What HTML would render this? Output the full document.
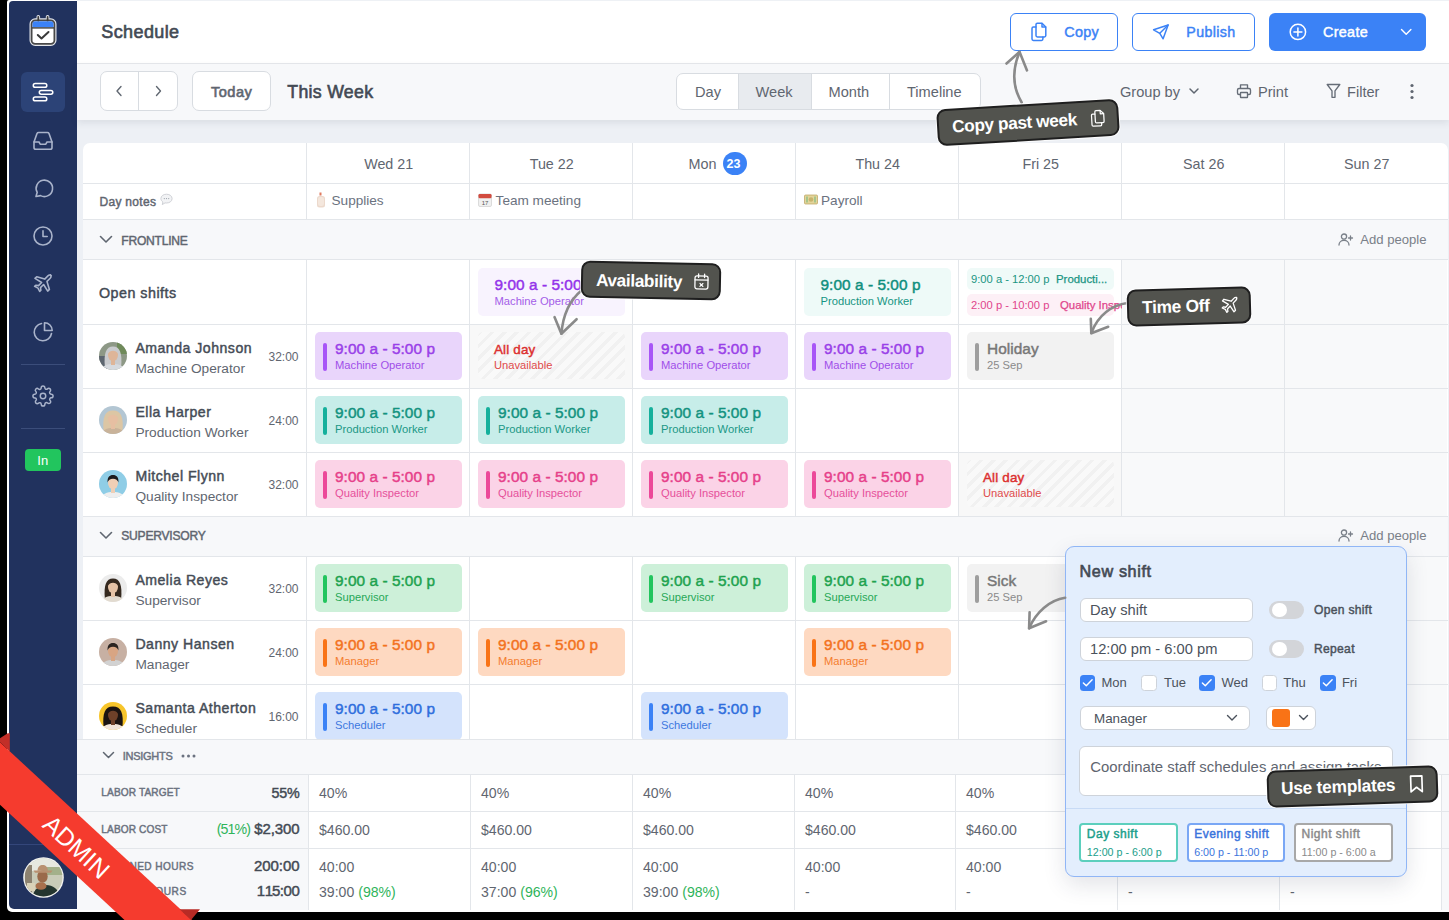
<!DOCTYPE html><html><head><meta charset="utf-8"><style>
*{box-sizing:border-box;margin:0;padding:0}
html,body{width:1449px;height:920px;overflow:hidden;background:#000;font-family:"Liberation Sans",sans-serif;color:#3f4651;position:relative}
.a{position:absolute}
.t{position:absolute;white-space:nowrap;line-height:1}
.hl{position:absolute;height:1px;background:#e3e6ea}
.vl{position:absolute;width:1px;background:#e3e6ea}
.card{position:absolute;border-radius:5px;overflow:hidden}
.bar{position:absolute;left:8px;top:10px;bottom:9px;width:4px;border-radius:2px}
.ct{position:absolute;left:20px;top:11px;font-weight:normal;-webkit-text-stroke:0.45px currentColor;font-size:15px;white-space:nowrap;line-height:1}
.sb{font-weight:normal;-webkit-text-stroke:0.45px currentColor}
.cs{position:absolute;left:20px;top:29px;font-size:11.2px;white-space:nowrap;line-height:1}
.tip{position:absolute;background:#52534e;border:2px solid #1f1f1f;box-shadow:0 0 0 1px rgba(255,255,255,.85);border-radius:9px;color:#fff;font-weight:bold;white-space:nowrap;z-index:30;line-height:1}
.ico{position:absolute;overflow:visible}
</style></head><body>
<div class="a" style="left:7px;top:0;width:1442px;height:911.5px;background:#fff;border-radius:2px 0 0 5px"></div>
<div class="a" style="left:9px;top:1px;width:68px;height:908px;background:#21325e;border-radius:4px 0 0 5px"></div>
<div class="a" style="left:77px;top:0;width:1372px;height:64px;background:#fff;border-bottom:1px solid #e6e8eb"></div>
<div class="a" style="left:77px;top:0;width:1372px;height:1px;background:#eef1f5"></div>
<div class="a" style="left:77px;top:120px;width:1372px;height:790px;background:#edf0f5"></div>
<div class="a" style="left:77px;top:64px;width:1372px;height:56px;background:#f7f8fa;box-shadow:0 3px 7px rgba(30,40,70,.09);z-index:2"></div>
<div class="a" style="left:83px;top:143px;width:1365px;height:767px;background:#fff;border-radius:7px 7px 0 0"></div>
<div class="t" style="left:101.3px;top:23.4px;font-size:18px;letter-spacing:0.39px;font-weight:normal;-webkit-text-stroke:0.62px currentColor;color:#434a54">Schedule</div>
<div class="a" style="left:1010px;top:13px;width:108px;height:38px;border:1.2px solid #3b82f6;border-radius:6px;background:#fff"></div>
<svg class="ico" style="left:1030px;top:22px" width="18" height="20" viewBox="0 0 18 20" fill="none" stroke="#3b82f6" stroke-width="1.5" stroke-linejoin="round" stroke-linecap="round"><path d="M7.4 1.2H12l3.8 3.8v8.6c0 .8-.6 1.4-1.4 1.4H7.4c-.8 0-1.4-.6-1.4-1.4V2.6c0-.8.6-1.4 1.4-1.4z"/><path d="M12 1.4V5h3.6"/><path d="M5.9 5H3.4C2.6 5 2 5.6 2 6.4v10.7c0 .8.6 1.4 1.4 1.4h8.1c.8 0 1.4-.6 1.4-1.4V15"/></svg>
<div class="t" style="left:1064.2px;top:25.4px;font-size:14.4px;letter-spacing:0.3px;font-weight:normal;-webkit-text-stroke:0.45px currentColor;color:#3b82f6">Copy</div>
<div class="a" style="left:1132px;top:13px;width:123px;height:38px;border:1.2px solid #3b82f6;border-radius:6px;background:#fff"></div>
<svg class="ico" style="left:1150px;top:22px" width="22" height="20" viewBox="1150 22 22 20" fill="none" stroke="#3b82f6" stroke-width="1.5" stroke-linejoin="round" stroke-linecap="round"><path d="M1168.1 25L1153.6 29.8 1159.8 33.3 1163.1 38.8z"/><path d="M1159.8 33.3L1168.1 25"/></svg>
<div class="t" style="left:1186.3px;top:25.3px;font-size:14.2px;letter-spacing:0.37px;font-weight:normal;-webkit-text-stroke:0.45px currentColor;color:#3b82f6">Publish</div>
<div class="a" style="left:1269px;top:13px;width:157px;height:38px;border-radius:6px;background:#3b82f6"></div>
<svg class="ico" style="left:1288px;top:22px" width="20" height="20" viewBox="1288 22 20 20" fill="none" stroke="#fff" stroke-width="1.5" stroke-linecap="round"><circle cx="1297.9" cy="31.9" r="7.7"/><path d="M1297.9 27.9v8M1293.9 31.9h8"/></svg>
<div class="t" style="left:1323px;top:25.3px;font-size:14.4px;letter-spacing:0.31px;font-weight:normal;-webkit-text-stroke:0.45px currentColor;color:#fff">Create</div>
<svg class="ico" style="left:1398px;top:26px" width="16" height="12" viewBox="1398 26 16 12" fill="none" stroke="#fff" stroke-width="1.4" stroke-linecap="round" stroke-linejoin="round"><path d="M1401.5 29.5l4.7 4.8 4.7-4.8"/></svg>
<div class="a" style="z-index:3;left:100px;top:71px;width:78px;height:40px;border:1px solid #d8dce1;border-radius:7px;background:#fff"></div>
<div class="a" style="z-index:3;left:138px;top:72px;width:1px;height:38px;background:#d8dce1"></div>
<svg class="ico" style="z-index:3;left:114px;top:84px" width="10" height="14" viewBox="0 0 10 14" fill="none" stroke="#5f6670" stroke-width="1.35" stroke-linecap="round" stroke-linejoin="round"><path d="M7 2.5L3 7l4 4.5"/></svg>
<svg class="ico" style="z-index:3;left:153px;top:84px" width="10" height="14" viewBox="0 0 10 14" fill="none" stroke="#5f6670" stroke-width="1.35" stroke-linecap="round" stroke-linejoin="round"><path d="M3.5 2.5L7.5 7l-4 4.5"/></svg>
<div class="a" style="z-index:3;left:192px;top:71px;width:79px;height:40px;border:1px solid #d8dce1;border-radius:7px;background:#fff"></div>
<div class="t" style="z-index:3;left:211px;top:85px;font-size:14.6px;letter-spacing:0.45px;font-weight:normal;-webkit-text-stroke:0.62px currentColor;color:#5f6670">Today</div>
<div class="t" style="z-index:3;left:287.3px;top:84px;font-size:17.7px;letter-spacing:0.31px;font-weight:normal;-webkit-text-stroke:0.62px currentColor;color:#434a54">This Week</div>
<div class="a" style="z-index:3;left:676px;top:73px;width:305px;height:37px;border:1px solid #d8dce1;border-radius:7px;background:#fff;overflow:hidden"><div class="a" style="left:61px;top:0;width:73px;height:37px;background:#e8ebef"></div><div class="a" style="left:61px;top:0;width:1px;height:37px;background:#d8dce1"></div><div class="a" style="left:134px;top:0;width:1px;height:37px;background:#d8dce1"></div><div class="a" style="left:212px;top:0;width:1px;height:37px;background:#d8dce1"></div></div>
<div class="t" style="z-index:3;left:695px;top:85px;font-size:14.6px;color:#5f6670">Day</div>
<div class="t" style="z-index:3;left:755.5px;top:85px;font-size:14.6px;color:#5f6670">Week</div>
<div class="t" style="z-index:3;left:828.5px;top:85px;font-size:14.6px;color:#5f6670">Month</div>
<div class="t" style="z-index:3;left:907px;top:85px;font-size:14.6px;color:#5f6670">Timeline</div>
<div class="t" style="z-index:3;left:1120px;top:85px;font-size:14.6px;color:#5f6670">Group by</div>
<svg class="ico" style="z-index:3;left:1188px;top:87px" width="12" height="8" viewBox="0 0 12 8" fill="none" stroke="#5f6670" stroke-width="1.5" stroke-linecap="round" stroke-linejoin="round"><path d="M2 2l4 4 4-4"/></svg>
<svg class="ico" style="z-index:3;left:1236px;top:83px" width="16" height="16" viewBox="0 0 16 16" fill="none" stroke="#666d77" stroke-width="1.35" stroke-linejoin="round"><path d="M4.5 5.5V1.8h7v3.7"/><rect x="1.5" y="5.5" width="13" height="6" rx="1.5"/><rect x="4.5" y="9.5" width="7" height="5" rx=".5" fill="#f7f8fa"/></svg>
<div class="t" style="z-index:3;left:1258px;top:85px;font-size:14.6px;color:#5f6670">Print</div>
<svg class="ico" style="z-index:3;left:1326px;top:83px" width="15" height="16" viewBox="0 0 15 16" fill="none" stroke="#666d77" stroke-width="1.35" stroke-linejoin="round"><path d="M1.2 1.5h12.6L9 7.8v6.5H6V7.8z"/></svg>
<div class="t" style="z-index:3;left:1347px;top:85px;font-size:14.6px;color:#5f6670">Filter</div>
<svg class="ico" style="z-index:3;left:1409px;top:83px" width="6" height="17" viewBox="0 0 6 17"><circle cx="3" cy="2.5" r="1.6" fill="#5f6670"/><circle cx="3" cy="8.5" r="1.6" fill="#5f6670"/><circle cx="3" cy="14.5" r="1.6" fill="#5f6670"/></svg>
<div class="a" style="left:83px;top:219px;width:1365px;height:40px;background:#f7f8fa"></div>
<div class="a" style="left:83px;top:516px;width:1365px;height:40px;background:#f7f8fa"></div>
<div class="a" style="left:1121px;top:259px;width:326px;height:65px;background:#f8f9fa"></div>
<div class="a" style="left:1121px;top:324px;width:326px;height:64px;background:#f8f9fa"></div>
<div class="a" style="left:1121px;top:388px;width:326px;height:64px;background:#f8f9fa"></div>
<div class="a" style="left:1121px;top:452px;width:326px;height:64px;background:#f8f9fa"></div>
<div class="a" style="left:1121px;top:556px;width:326px;height:64px;background:#f8f9fa"></div>
<div class="a" style="left:1121px;top:620px;width:326px;height:64px;background:#f8f9fa"></div>
<div class="a" style="left:1121px;top:684px;width:326px;height:64px;background:#f8f9fa"></div>
<div class="a" style="left:469px;top:324px;width:163px;height:64px;background:#f8f8f8"></div>
<div class="a" style="left:478px;top:332px;width:147px;height:47px;border-radius:5px;background:repeating-linear-gradient(135deg,#f1f1f1 0 3.3px,#f9f9f9 3.3px 8.7px)"></div>
<div class="t" style="left:494px;top:343px;font-size:13.4px;letter-spacing:0.18px;font-weight:normal;-webkit-text-stroke:0.45px currentColor;color:#dc2f2f">All day</div>
<div class="t" style="left:494px;top:360px;font-size:11.2px;color:#df4b4b">Unavailable</div>
<div class="a" style="left:958px;top:452px;width:163px;height:64px;background:#f8f8f8"></div>
<div class="a" style="left:967px;top:460px;width:147px;height:47px;border-radius:5px;background:repeating-linear-gradient(135deg,#f1f1f1 0 3.3px,#f9f9f9 3.3px 8.7px)"></div>
<div class="t" style="left:983px;top:471px;font-size:13.4px;letter-spacing:0.18px;font-weight:normal;-webkit-text-stroke:0.45px currentColor;color:#dc2f2f">All day</div>
<div class="t" style="left:983px;top:488px;font-size:11.2px;color:#df4b4b">Unavailable</div>
<div class="hl" style="left:83px;top:183px;width:1365px"></div>
<div class="hl" style="left:83px;top:219px;width:1365px"></div>
<div class="hl" style="left:83px;top:259px;width:1365px"></div>
<div class="hl" style="left:83px;top:324px;width:1365px"></div>
<div class="hl" style="left:83px;top:388px;width:1365px"></div>
<div class="hl" style="left:83px;top:452px;width:1365px"></div>
<div class="hl" style="left:83px;top:516px;width:1365px"></div>
<div class="hl" style="left:83px;top:556px;width:1365px"></div>
<div class="hl" style="left:83px;top:620px;width:1365px"></div>
<div class="hl" style="left:83px;top:684px;width:1365px"></div>
<div class="vl" style="left:306px;top:143px;height:76px"></div>
<div class="vl" style="left:469px;top:143px;height:76px"></div>
<div class="vl" style="left:632px;top:143px;height:76px"></div>
<div class="vl" style="left:795px;top:143px;height:76px"></div>
<div class="vl" style="left:958px;top:143px;height:76px"></div>
<div class="vl" style="left:1121px;top:143px;height:76px"></div>
<div class="vl" style="left:1284px;top:143px;height:76px"></div>
<div class="vl" style="left:306px;top:259px;height:257px"></div>
<div class="vl" style="left:469px;top:259px;height:257px"></div>
<div class="vl" style="left:632px;top:259px;height:257px"></div>
<div class="vl" style="left:795px;top:259px;height:257px"></div>
<div class="vl" style="left:958px;top:259px;height:257px"></div>
<div class="vl" style="left:1121px;top:259px;height:257px"></div>
<div class="vl" style="left:1284px;top:259px;height:257px"></div>
<div class="vl" style="left:306px;top:556px;height:192px"></div>
<div class="vl" style="left:469px;top:556px;height:192px"></div>
<div class="vl" style="left:632px;top:556px;height:192px"></div>
<div class="vl" style="left:795px;top:556px;height:192px"></div>
<div class="vl" style="left:958px;top:556px;height:192px"></div>
<div class="vl" style="left:1121px;top:556px;height:192px"></div>
<div class="vl" style="left:1284px;top:556px;height:192px"></div>
<div class="t" style="left:307.2px;width:163px;text-align:center;top:157px;font-size:14.3px;color:#5f6670">Wed 21</div>
<div class="t" style="left:470.2px;width:163px;text-align:center;top:157px;font-size:14.3px;color:#5f6670">Tue 22</div>
<div class="t" style="left:688.6px;top:157px;font-size:14.4px;color:#5f6670">Mon</div>
<div class="a" style="left:723px;top:151.5px;width:23.5px;height:23.5px;border-radius:50%;background:#3b82f6"></div>
<div class="t" style="left:726.5px;top:158px;font-size:12.5px;font-weight:bold;color:#fff">23</div>
<div class="t" style="left:796.2px;width:163px;text-align:center;top:157px;font-size:14.3px;color:#5f6670">Thu 24</div>
<div class="t" style="left:959.2px;width:163px;text-align:center;top:157px;font-size:14.3px;color:#5f6670">Fri 25</div>
<div class="t" style="left:1122.2px;width:163px;text-align:center;top:157px;font-size:14.3px;color:#5f6670">Sat 26</div>
<div class="t" style="left:1285.2px;width:163px;text-align:center;top:157px;font-size:14.3px;color:#5f6670">Sun 27</div>
<div class="t" style="left:99.5px;top:196px;font-size:12px;letter-spacing:0.3px;font-weight:normal;-webkit-text-stroke:0.45px currentColor;color:#5f6670">Day notes</div>
<svg class="ico" style="left:159.5px;top:193px" width="13" height="13" viewBox="0 0 13 13"><path d="M6.5 1.2C3.3 1.2.9 3.1.9 5.6c0 1.4.8 2.6 2 3.4l-.6 2.6 2.7-1.7c.5.1 1 .1 1.5.1 3.2 0 5.6-1.9 5.6-4.4S9.7 1.2 6.5 1.2z" fill="#f2f3f5" stroke="#c9ccd1" stroke-width=".9"/><circle cx="4.3" cy="5.6" r=".6" fill="#9aa0a8"/><circle cx="6.5" cy="5.6" r=".6" fill="#9aa0a8"/><circle cx="8.7" cy="5.6" r=".6" fill="#9aa0a8"/></svg>
<svg class="ico" style="left:316px;top:192px" width="10" height="16" viewBox="0 0 10 16"><rect x="3.5" y="0.5" width="2" height="3" fill="#e07a5f"/><rect x="1" y="4" width="8" height="11.5" rx="2.5" fill="#ecd9cc"/><rect x="2" y="5" width="6" height="9" rx="2" fill="#f4e7dd"/></svg>
<div class="t" style="left:331.5px;top:194px;font-size:13.6px;color:#6b7280">Supplies</div>
<svg class="ico" style="left:477.5px;top:193px" width="14" height="14" viewBox="0 0 14 14"><rect x="0.5" y="1" width="13" height="12.5" rx="1.5" fill="#f0f0f0" stroke="#c7c7c7" stroke-width=".6"/><rect x="0.5" y="1" width="13" height="4.2" rx="1.2" fill="#d24b3f"/><text x="7" y="11.8" font-size="6" text-anchor="middle" fill="#555" font-family="Liberation Sans">17</text></svg>
<div class="t" style="left:495.6px;top:194px;font-size:13.6px;color:#6b7280">Team meeting</div>
<svg class="ico" style="left:804px;top:194px" width="14" height="11" viewBox="0 0 14 11"><rect x="0.5" y="1" width="13" height="9" rx="1" fill="#e3d49a" stroke="#b9a25a" stroke-width=".7"/><circle cx="7" cy="5.5" r="2.3" fill="#c8b46c"/><rect x="2" y="2.5" width="2" height="6" fill="#a7c58a"/><rect x="10" y="2.5" width="2" height="6" fill="#a7c58a"/></svg>
<div class="t" style="left:821px;top:194px;font-size:13.6px;color:#6b7280">Payroll</div>
<svg class="ico" style="left:99px;top:235px" width="14" height="9" viewBox="0 0 14 9" fill="none" stroke="#5f6670" stroke-width="1.6" stroke-linecap="round" stroke-linejoin="round"><path d="M1.5 1.5L7 7l5.5-5.5"/></svg>
<div class="t" style="left:121.3px;top:234.5px;font-size:12.1px;color:#5f6670;font-weight:normal;-webkit-text-stroke:0.45px currentColor;letter-spacing:-0.25px">FRONTLINE</div>
<svg class="ico" style="left:1338px;top:233px" width="15" height="13" viewBox="0 0 15 13" fill="none" stroke="#7a8089" stroke-width="1.3" stroke-linecap="round"><circle cx="6" cy="3.6" r="2.6"/><path d="M1 12c0-2.8 2.2-4.6 5-4.6s5 1.8 5 4.6"/><path d="M12.5 3v4M10.5 5h4"/></svg>
<div class="t" style="left:1360.3px;top:233px;font-size:13.1px;color:#7a8089">Add people</div>
<svg class="ico" style="left:99px;top:530.8px" width="14" height="9" viewBox="0 0 14 9" fill="none" stroke="#5f6670" stroke-width="1.6" stroke-linecap="round" stroke-linejoin="round"><path d="M1.5 1.5L7 7l5.5-5.5"/></svg>
<div class="t" style="left:121.3px;top:530.3px;font-size:12.1px;color:#5f6670;font-weight:normal;-webkit-text-stroke:0.45px currentColor;letter-spacing:-0.25px">SUPERVISORY</div>
<svg class="ico" style="left:1338px;top:528.8px" width="15" height="13" viewBox="0 0 15 13" fill="none" stroke="#7a8089" stroke-width="1.3" stroke-linecap="round"><circle cx="6" cy="3.6" r="2.6"/><path d="M1 12c0-2.8 2.2-4.6 5-4.6s5 1.8 5 4.6"/><path d="M12.5 3v4M10.5 5h4"/></svg>
<div class="t" style="left:1360.3px;top:528.8px;font-size:13.1px;color:#7a8089">Add people</div>
<div class="t" style="left:99px;top:286px;font-size:14.3px;letter-spacing:0.48px;font-weight:normal;-webkit-text-stroke:0.45px currentColor;color:#434a54">Open shifts</div>
<svg class="ico" style="left:99.0px;top:342.0px" width="28" height="28" viewBox="0 0 28 28"><defs><clipPath id="c113356"><circle cx="14" cy="14" r="14"/></clipPath></defs><g clip-path="url(#c113356)"><rect width="28" height="28" fill="#8d9886"/><rect x="0" y="14" width="9" height="14" fill="#5d6670"/><rect x="18" y="0" width="10" height="12" fill="#6f8a5a"/><path d="M5.800000000000001 24C4.800000000000001 12 6.800000000000001 4.5 14 4.5S23.2 12 22.2 24z" fill="#c9cbce"/><path d="M2 30c0-5.5 5-8 12-8s12 2.5 12 8z" fill="#d6dadf"/><rect x="12" y="17" width="4" height="6" fill="#deb598"/><ellipse cx="14" cy="13" rx="5" ry="6.2" fill="#deb598"/><path d="M8.8 12C9 7.5 11 6 14 6s5 1.5 5.2 6c-1.2-2.2-3-3.2-5.2-3.2S10 9.8 8.8 12z" fill="#c9cbce"/></g></svg>
<div class="t sb" style="left:135.4px;top:340.7px;font-size:14.1px;letter-spacing:0.5px;color:#454c56">Amanda Johnson</div>
<div class="t" style="left:135.4px;top:361.7px;font-size:13.7px;color:#5f6670">Machine Operator</div>
<div class="t" style="right:1150.5px;top:350.7px;font-size:12px;color:#5f6670">32:00</div>
<svg class="ico" style="left:99.0px;top:406.0px" width="28" height="28" viewBox="0 0 28 28"><defs><clipPath id="c113420"><circle cx="14" cy="14" r="14"/></clipPath></defs><g clip-path="url(#c113420)"><rect width="28" height="28" fill="#b3c6d3"/><path d="M4.5 24C3.5 12 5.5 4.5 14 4.5S24.5 12 23.5 24z" fill="#dcc6a4"/><path d="M2 30c0-5.5 5-8 12-8s12 2.5 12 8z" fill="#c9b39a"/><rect x="12" y="17" width="4" height="6" fill="#e6bfa2"/><ellipse cx="14" cy="13" rx="5" ry="6.2" fill="#e6bfa2"/><path d="M8.8 12C9 7.5 11 6 14 6s5 1.5 5.2 6c-1.2-2.2-3-3.2-5.2-3.2S10 9.8 8.8 12z" fill="#dcc6a4"/></g></svg>
<div class="t sb" style="left:135.4px;top:404.7px;font-size:14.1px;letter-spacing:0.5px;color:#454c56">Ella Harper</div>
<div class="t" style="left:135.4px;top:425.7px;font-size:13.7px;color:#5f6670">Production Worker</div>
<div class="t" style="right:1150.5px;top:414.7px;font-size:12px;color:#5f6670">24:00</div>
<svg class="ico" style="left:99.0px;top:470.0px" width="28" height="28" viewBox="0 0 28 28"><defs><clipPath id="c113484"><circle cx="14" cy="14" r="14"/></clipPath></defs><g clip-path="url(#c113484)"><rect width="28" height="28" fill="#8fcde6"/><path d="M2 30c0-5.5 5-8 12-8s12 2.5 12 8z" fill="#eeeeee"/><rect x="12" y="17" width="4" height="6" fill="#efcfb6"/><ellipse cx="14" cy="13" rx="5" ry="6.2" fill="#efcfb6"/><path d="M8.6 12.5C8.2 7 10.5 5 14 5s5.9 2 5.4 7.5c-.6-2.5-2.6-3.8-5.4-3.8s-4.8 1.3-5.4 3.8z" fill="#1d1c1e"/></g></svg>
<div class="t sb" style="left:135.4px;top:468.7px;font-size:14.1px;letter-spacing:0.5px;color:#454c56">Mitchel Flynn</div>
<div class="t" style="left:135.4px;top:489.7px;font-size:13.7px;color:#5f6670">Quality Inspector</div>
<div class="t" style="right:1150.5px;top:478.7px;font-size:12px;color:#5f6670">32:00</div>
<svg class="ico" style="left:99.0px;top:574.0px" width="28" height="28" viewBox="0 0 28 28"><defs><clipPath id="c113588"><circle cx="14" cy="14" r="14"/></clipPath></defs><g clip-path="url(#c113588)"><rect width="28" height="28" fill="#ececec"/><path d="M5.800000000000001 24C4.800000000000001 12 6.800000000000001 4.5 14 4.5S23.2 12 22.2 24z" fill="#35291f"/><path d="M2 30c0-5.5 5-8 12-8s12 2.5 12 8z" fill="#e2dbd0"/><rect x="12" y="17" width="4" height="6" fill="#e6c3a6"/><ellipse cx="14" cy="13" rx="5" ry="6.2" fill="#e6c3a6"/><path d="M8.8 12C9 7.5 11 6 14 6s5 1.5 5.2 6c-1.2-2.2-3-3.2-5.2-3.2S10 9.8 8.8 12z" fill="#35291f"/></g></svg>
<div class="t sb" style="left:135.4px;top:572.7px;font-size:14.1px;letter-spacing:0.5px;color:#454c56">Amelia Reyes</div>
<div class="t" style="left:135.4px;top:593.7px;font-size:13.7px;color:#5f6670">Supervisor</div>
<div class="t" style="right:1150.5px;top:582.7px;font-size:12px;color:#5f6670">32:00</div>
<svg class="ico" style="left:99.0px;top:638.0px" width="28" height="28" viewBox="0 0 28 28"><defs><clipPath id="c113652"><circle cx="14" cy="14" r="14"/></clipPath></defs><g clip-path="url(#c113652)"><rect width="28" height="28" fill="#c7b0a3"/><path d="M2 30c0-5.5 5-8 12-8s12 2.5 12 8z" fill="#d2d2d2"/><rect x="12" y="17" width="4" height="6" fill="#d8a583"/><ellipse cx="14" cy="13" rx="5" ry="6.2" fill="#d8a583"/><path d="M8.6 12.5C8.2 7 10.5 5 14 5s5.9 2 5.4 7.5c-.6-2.5-2.6-3.8-5.4-3.8s-4.8 1.3-5.4 3.8z" fill="#2b2420"/></g></svg>
<div class="t sb" style="left:135.4px;top:636.7px;font-size:14.1px;letter-spacing:0.5px;color:#454c56">Danny Hansen</div>
<div class="t" style="left:135.4px;top:657.7px;font-size:13.7px;color:#5f6670">Manager</div>
<div class="t" style="right:1150.5px;top:646.7px;font-size:12px;color:#5f6670">24:00</div>
<svg class="ico" style="left:99.0px;top:702.0px" width="28" height="28" viewBox="0 0 28 28"><defs><clipPath id="c113716"><circle cx="14" cy="14" r="14"/></clipPath></defs><g clip-path="url(#c113716)"><rect width="28" height="28" fill="#f7c52b"/><path d="M4.5 24C3.5 12 5.5 4.5 14 4.5S24.5 12 23.5 24z" fill="#1b1411"/><path d="M2 30c0-5.5 5-8 12-8s12 2.5 12 8z" fill="#f1e4d8"/><rect x="12" y="17" width="4" height="6" fill="#6e4129"/><ellipse cx="14" cy="13" rx="5" ry="6.2" fill="#6e4129"/><path d="M8.8 12C9 7.5 11 6 14 6s5 1.5 5.2 6c-1.2-2.2-3-3.2-5.2-3.2S10 9.8 8.8 12z" fill="#1b1411"/></g></svg>
<div class="t sb" style="left:135.4px;top:700.7px;font-size:14.1px;letter-spacing:0.5px;color:#454c56">Samanta Atherton</div>
<div class="t" style="left:135.4px;top:721.7px;font-size:13.7px;color:#5f6670">Scheduler</div>
<div class="t" style="right:1150.5px;top:710.7px;font-size:12px;color:#5f6670">16:00</div>
<div class="card" style="left:315px;top:332px;width:147px;height:47.5px;background:#e9d5fb"><div class="bar" style="left:8px;top:10.5px;height:28px;background:#a855f7"></div><div class="ct" style="left:20px;top:8.8px;letter-spacing:0.05px;font-size:15.4px;color:#9940e8">9:00 a - 5:00 p</div><div class="cs" style="left:20px;top:27.6px;color:#a04ee9">Machine Operator</div></div>
<div class="card" style="left:641px;top:332px;width:147px;height:47.5px;background:#e9d5fb"><div class="bar" style="left:8px;top:10.5px;height:28px;background:#a855f7"></div><div class="ct" style="left:20px;top:8.8px;letter-spacing:0.05px;font-size:15.4px;color:#9940e8">9:00 a - 5:00 p</div><div class="cs" style="left:20px;top:27.6px;color:#a04ee9">Machine Operator</div></div>
<div class="card" style="left:804px;top:332px;width:147px;height:47.5px;background:#e9d5fb"><div class="bar" style="left:8px;top:10.5px;height:28px;background:#a855f7"></div><div class="ct" style="left:20px;top:8.8px;letter-spacing:0.05px;font-size:15.4px;color:#9940e8">9:00 a - 5:00 p</div><div class="cs" style="left:20px;top:27.6px;color:#a04ee9">Machine Operator</div></div>
<div class="card" style="left:967px;top:332px;width:147px;height:47.5px;background:#f2f2f2"><div class="bar" style="left:8px;top:10.5px;height:28px;background:#9e9e9e"></div><div class="ct" style="left:20px;top:8.8px;letter-spacing:0.05px;font-size:15.4px;color:#777777">Holiday</div><div class="cs" style="left:20px;top:27.6px;color:#8a8a8a">25 Sep</div></div>
<div class="card" style="left:315px;top:396px;width:147px;height:47.5px;background:#c7ede9"><div class="bar" style="left:8px;top:10.5px;height:28px;background:#15b09c"></div><div class="ct" style="left:20px;top:8.8px;letter-spacing:0.05px;font-size:15.4px;color:#13927f">9:00 a - 5:00 p</div><div class="cs" style="left:20px;top:27.6px;color:#1b9886">Production Worker</div></div>
<div class="card" style="left:478px;top:396px;width:147px;height:47.5px;background:#c7ede9"><div class="bar" style="left:8px;top:10.5px;height:28px;background:#15b09c"></div><div class="ct" style="left:20px;top:8.8px;letter-spacing:0.05px;font-size:15.4px;color:#13927f">9:00 a - 5:00 p</div><div class="cs" style="left:20px;top:27.6px;color:#1b9886">Production Worker</div></div>
<div class="card" style="left:641px;top:396px;width:147px;height:47.5px;background:#c7ede9"><div class="bar" style="left:8px;top:10.5px;height:28px;background:#15b09c"></div><div class="ct" style="left:20px;top:8.8px;letter-spacing:0.05px;font-size:15.4px;color:#13927f">9:00 a - 5:00 p</div><div class="cs" style="left:20px;top:27.6px;color:#1b9886">Production Worker</div></div>
<div class="card" style="left:315px;top:460px;width:147px;height:47.5px;background:#fbd3e7"><div class="bar" style="left:8px;top:10.5px;height:28px;background:#ec4899"></div><div class="ct" style="left:20px;top:8.8px;letter-spacing:0.05px;font-size:15.4px;color:#e6408a">9:00 a - 5:00 p</div><div class="cs" style="left:20px;top:27.6px;color:#e6509a">Quality Inspector</div></div>
<div class="card" style="left:478px;top:460px;width:147px;height:47.5px;background:#fbd3e7"><div class="bar" style="left:8px;top:10.5px;height:28px;background:#ec4899"></div><div class="ct" style="left:20px;top:8.8px;letter-spacing:0.05px;font-size:15.4px;color:#e6408a">9:00 a - 5:00 p</div><div class="cs" style="left:20px;top:27.6px;color:#e6509a">Quality Inspector</div></div>
<div class="card" style="left:641px;top:460px;width:147px;height:47.5px;background:#fbd3e7"><div class="bar" style="left:8px;top:10.5px;height:28px;background:#ec4899"></div><div class="ct" style="left:20px;top:8.8px;letter-spacing:0.05px;font-size:15.4px;color:#e6408a">9:00 a - 5:00 p</div><div class="cs" style="left:20px;top:27.6px;color:#e6509a">Quality Inspector</div></div>
<div class="card" style="left:804px;top:460px;width:147px;height:47.5px;background:#fbd3e7"><div class="bar" style="left:8px;top:10.5px;height:28px;background:#ec4899"></div><div class="ct" style="left:20px;top:8.8px;letter-spacing:0.05px;font-size:15.4px;color:#e6408a">9:00 a - 5:00 p</div><div class="cs" style="left:20px;top:27.6px;color:#e6509a">Quality Inspector</div></div>
<div class="card" style="left:315px;top:564px;width:147px;height:47.5px;background:#cdf0d9"><div class="bar" style="left:8px;top:10.5px;height:28px;background:#22c55e"></div><div class="ct" style="left:20px;top:8.8px;letter-spacing:0.05px;font-size:15.4px;color:#1ea24f">9:00 a - 5:00 p</div><div class="cs" style="left:20px;top:27.6px;color:#26a857">Supervisor</div></div>
<div class="card" style="left:641px;top:564px;width:147px;height:47.5px;background:#cdf0d9"><div class="bar" style="left:8px;top:10.5px;height:28px;background:#22c55e"></div><div class="ct" style="left:20px;top:8.8px;letter-spacing:0.05px;font-size:15.4px;color:#1ea24f">9:00 a - 5:00 p</div><div class="cs" style="left:20px;top:27.6px;color:#26a857">Supervisor</div></div>
<div class="card" style="left:804px;top:564px;width:147px;height:47.5px;background:#cdf0d9"><div class="bar" style="left:8px;top:10.5px;height:28px;background:#22c55e"></div><div class="ct" style="left:20px;top:8.8px;letter-spacing:0.05px;font-size:15.4px;color:#1ea24f">9:00 a - 5:00 p</div><div class="cs" style="left:20px;top:27.6px;color:#26a857">Supervisor</div></div>
<div class="card" style="left:967px;top:564px;width:147px;height:47.5px;background:#f2f2f2"><div class="bar" style="left:8px;top:10.5px;height:28px;background:#9e9e9e"></div><div class="ct" style="left:20px;top:8.8px;letter-spacing:0.05px;font-size:15.4px;color:#777777">Sick</div><div class="cs" style="left:20px;top:27.6px;color:#8a8a8a">25 Sep</div></div>
<div class="card" style="left:315px;top:628px;width:147px;height:47.5px;background:#fed9c1"><div class="bar" style="left:8px;top:10.5px;height:28px;background:#f97316"></div><div class="ct" style="left:20px;top:8.8px;letter-spacing:0.05px;font-size:15.4px;color:#f3721e">9:00 a - 5:00 p</div><div class="cs" style="left:20px;top:27.6px;color:#f47c2e">Manager</div></div>
<div class="card" style="left:478px;top:628px;width:147px;height:47.5px;background:#fed9c1"><div class="bar" style="left:8px;top:10.5px;height:28px;background:#f97316"></div><div class="ct" style="left:20px;top:8.8px;letter-spacing:0.05px;font-size:15.4px;color:#f3721e">9:00 a - 5:00 p</div><div class="cs" style="left:20px;top:27.6px;color:#f47c2e">Manager</div></div>
<div class="card" style="left:804px;top:628px;width:147px;height:47.5px;background:#fed9c1"><div class="bar" style="left:8px;top:10.5px;height:28px;background:#f97316"></div><div class="ct" style="left:20px;top:8.8px;letter-spacing:0.05px;font-size:15.4px;color:#f3721e">9:00 a - 5:00 p</div><div class="cs" style="left:20px;top:27.6px;color:#f47c2e">Manager</div></div>
<div class="card" style="left:315px;top:692px;width:147px;height:47.5px;background:#d4e3fc"><div class="bar" style="left:8px;top:10.5px;height:28px;background:#3b82f6"></div><div class="ct" style="left:20px;top:8.8px;letter-spacing:0.05px;font-size:15.4px;color:#2f6edd">9:00 a - 5:00 p</div><div class="cs" style="left:20px;top:27.6px;color:#3d78e0">Scheduler</div></div>
<div class="card" style="left:641px;top:692px;width:147px;height:47.5px;background:#d4e3fc"><div class="bar" style="left:8px;top:10.5px;height:28px;background:#3b82f6"></div><div class="ct" style="left:20px;top:8.8px;letter-spacing:0.05px;font-size:15.4px;color:#2f6edd">9:00 a - 5:00 p</div><div class="cs" style="left:20px;top:27.6px;color:#3d78e0">Scheduler</div></div>
<div class="card" style="left:478px;top:268px;width:147px;height:48px;background:#f8f3fe"><div class="ct" style="left:16.5px;top:8.6px;font-size:15.4px;letter-spacing:0.05px;color:#9333ea">9:00 a - 5:00 p</div><div class="cs" style="left:16.5px;top:27.6px;color:#a35de8">Machine Operator</div></div>
<div class="card" style="left:804px;top:268px;width:147px;height:48px;background:#eefaf8"><div class="ct" style="left:16.5px;top:8.6px;font-size:15.4px;letter-spacing:0.05px;color:#0f8f7e">9:00 a - 5:00 p</div><div class="cs" style="left:16.5px;top:27.6px;color:#169583">Production Worker</div></div>
<div class="a" style="left:967px;top:268.1px;width:147px;height:21.5px;border-radius:5px;background:#effaf8"></div>
<div class="t" style="left:971px;top:274px;font-size:11.2px;color:#1a9583">9:00 a - 12:00 p</div>
<div class="t" style="left:1056px;top:274px;font-size:11.4px;color:#1a9583;-webkit-text-stroke:0.25px #1a9583">Producti...</div>
<div class="a" style="left:967px;top:294.3px;width:147px;height:21.5px;border-radius:5px;background:#fdf0f6"></div>
<div class="t" style="left:971px;top:299.8px;font-size:11.2px;color:#e0458c">2:00 p - 10:00 p</div>
<div class="a" style="left:967px;top:294px;width:154.5px;height:22px;overflow:hidden"><div class="t" style="left:93px;top:5.8px;font-size:11.4px;color:#e0458c;-webkit-text-stroke:0.25px #e0458c">Quality Inspector</div></div>
<div class="a" style="left:77px;top:738.5px;width:1372px;height:171.5px;background:#fff"></div>
<div class="a" style="left:77px;top:738.5px;width:1372px;height:35px;background:#f7f8fa"></div>
<div class="a" style="left:77px;top:773.5px;width:231px;height:136.5px;background:#f7f8fa"></div>
<div class="a" style="left:1441px;top:773.5px;width:8px;height:136.5px;background:#f7f8fa"></div>
<div class="hl" style="left:77px;top:738.5px;width:1372px"></div>
<div class="hl" style="left:77px;top:773.5px;width:1372px"></div>
<div class="hl" style="left:77px;top:810.5px;width:1372px"></div>
<div class="hl" style="left:77px;top:847.5px;width:1372px"></div>
<div class="vl" style="left:308px;top:773.5px;height:136.5px"></div>
<div class="vl" style="left:470px;top:773.5px;height:136.5px"></div>
<div class="vl" style="left:632px;top:773.5px;height:136.5px"></div>
<div class="vl" style="left:794px;top:773.5px;height:136.5px"></div>
<div class="vl" style="left:955px;top:773.5px;height:136.5px"></div>
<div class="vl" style="left:1117px;top:773.5px;height:136.5px"></div>
<div class="vl" style="left:1279px;top:773.5px;height:136.5px"></div>
<div class="vl" style="left:1441px;top:773.5px;height:136.5px"></div>
<svg class="ico" style="left:101.5px;top:751px" width="13" height="9" viewBox="0 0 13 9" fill="none" stroke="#5f6670" stroke-width="1.5" stroke-linecap="round" stroke-linejoin="round"><path d="M1.5 1.5L6.5 6.5l5-5"/></svg>
<div class="t" style="left:122.8px;top:751px;font-size:11px;font-weight:normal;-webkit-text-stroke:0.45px currentColor;color:#6b7280;letter-spacing:-0.28px">INSIGHTS</div>
<svg class="ico" style="left:180.5px;top:753.5px" width="16" height="4" viewBox="0 0 16 4"><circle cx="2" cy="2" r="1.5" fill="#6b7280"/><circle cx="7.5" cy="2" r="1.5" fill="#6b7280"/><circle cx="13" cy="2" r="1.5" fill="#6b7280"/></svg>
<div class="t" style="left:101.3px;top:787.5px;font-size:10.1px;font-weight:normal;-webkit-text-stroke:0.45px currentColor;color:#6b7280;letter-spacing:0.13px">LABOR TARGET</div>
<div class="t" style="left:101.3px;top:824.5px;font-size:10.1px;font-weight:normal;-webkit-text-stroke:0.45px currentColor;color:#6b7280;letter-spacing:0.13px">LABOR COST</div>
<div class="t" style="left:101.3px;top:861.5px;font-size:10.1px;font-weight:normal;-webkit-text-stroke:0.45px currentColor;color:#6b7280;letter-spacing:0.13px;letter-spacing:0.44px">PLANNED HOURS</div>
<div class="t" style="left:101.3px;top:886.5px;font-size:10.1px;font-weight:normal;-webkit-text-stroke:0.45px currentColor;color:#6b7280;letter-spacing:0.13px;letter-spacing:0.56px">ACTUAL HOURS</div>
<div class="t" style="right:1149.5px;top:785.5px;font-size:14.3px;letter-spacing:-0.17px;font-weight:normal;-webkit-text-stroke:0.45px currentColor;color:#434a54">55%</div>
<div class="t" style="right:1149.5px;top:821px;font-size:15px;letter-spacing:-0.1px;font-weight:normal;-webkit-text-stroke:0.45px currentColor;color:#434a54"><span style="-webkit-text-stroke:0;color:#2fb45a;font-size:14.2px;letter-spacing:-0.9px">(51%)</span> $2,300</div>
<div class="t" style="right:1149.5px;top:858.3px;font-size:15px;letter-spacing:-0.05px;font-weight:normal;-webkit-text-stroke:0.45px currentColor;color:#434a54">200:00</div>
<div class="t" style="right:1149.5px;top:883.3px;font-size:15px;letter-spacing:-0.4px;font-weight:normal;-webkit-text-stroke:0.45px currentColor;color:#434a54">1<span style="letter-spacing:-1.2px">1</span>5:00</div>
<div class="t" style="left:319px;top:786px;font-size:14.1px;color:#5f6670">40%</div>
<div class="t" style="left:319px;top:823px;font-size:14.1px;color:#5f6670">$460.00</div>
<div class="t" style="left:319px;top:859.5px;font-size:14.1px;color:#5f6670">40:00</div>
<div class="t" style="left:319px;top:884.5px;font-size:14.1px;color:#5f6670">39:00 <span style="color:#2fb45a">(98%)</span></div>
<div class="t" style="left:481px;top:786px;font-size:14.1px;color:#5f6670">40%</div>
<div class="t" style="left:481px;top:823px;font-size:14.1px;color:#5f6670">$460.00</div>
<div class="t" style="left:481px;top:859.5px;font-size:14.1px;color:#5f6670">40:00</div>
<div class="t" style="left:481px;top:884.5px;font-size:14.1px;color:#5f6670">37:00 <span style="color:#2fb45a">(96%)</span></div>
<div class="t" style="left:643px;top:786px;font-size:14.1px;color:#5f6670">40%</div>
<div class="t" style="left:643px;top:823px;font-size:14.1px;color:#5f6670">$460.00</div>
<div class="t" style="left:643px;top:859.5px;font-size:14.1px;color:#5f6670">40:00</div>
<div class="t" style="left:643px;top:884.5px;font-size:14.1px;color:#5f6670">39:00 <span style="color:#2fb45a">(98%)</span></div>
<div class="t" style="left:805px;top:786px;font-size:14.1px;color:#5f6670">40%</div>
<div class="t" style="left:805px;top:823px;font-size:14.1px;color:#5f6670">$460.00</div>
<div class="t" style="left:805px;top:859.5px;font-size:14.1px;color:#5f6670">40:00</div>
<div class="t" style="left:805px;top:884.5px;font-size:14.1px;color:#5f6670">-</div>
<div class="t" style="left:966px;top:786px;font-size:14.1px;color:#5f6670">40%</div>
<div class="t" style="left:966px;top:823px;font-size:14.1px;color:#5f6670">$460.00</div>
<div class="t" style="left:966px;top:859.5px;font-size:14.1px;color:#5f6670">40:00</div>
<div class="t" style="left:966px;top:884.5px;font-size:14.1px;color:#5f6670">-</div>
<div class="t" style="left:1128px;top:786px;font-size:14.1px;color:#5f6670">40%</div>
<div class="t" style="left:1128px;top:823px;font-size:14.1px;color:#5f6670">$460.00</div>
<div class="t" style="left:1128px;top:859.5px;font-size:14.1px;color:#5f6670">40:00</div>
<div class="t" style="left:1128px;top:884.5px;font-size:14.1px;color:#5f6670">-</div>
<div class="t" style="left:1290px;top:786px;font-size:14.1px;color:#5f6670">40%</div>
<div class="t" style="left:1290px;top:823px;font-size:14.1px;color:#5f6670">$460.00</div>
<div class="t" style="left:1290px;top:859.5px;font-size:14.1px;color:#5f6670">40:00</div>
<div class="t" style="left:1290px;top:884.5px;font-size:14.1px;color:#5f6670">-</div>
<div class="a" style="z-index:10;left:1065px;top:546px;width:341.5px;height:331px;background:#e3eefd;border:1px solid #90b6f6;border-radius:9px;box-shadow:0 8px 22px rgba(40,50,80,.13)"></div>
<div class="t" style="z-index:10;left:1079.5px;top:562.5px;font-size:16.2px;letter-spacing:0.63px;font-weight:normal;-webkit-text-stroke:0.62px currentColor;color:#434a54">New shift</div>
<div class="a" style="z-index:10;left:1079.5px;top:597.5px;width:173px;height:24px;background:#fff;border:1px solid #ced3da;border-radius:6px"></div>
<div class="t" style="z-index:10;left:1090px;top:603px;font-size:14.7px;color:#4b525c">Day shift</div>
<div class="a" style="z-index:10;left:1079.5px;top:636.5px;width:173px;height:24px;background:#fff;border:1px solid #ced3da;border-radius:6px"></div>
<div class="t" style="z-index:10;left:1090px;top:642px;font-size:14.7px;color:#4b525c">12:00 pm - 6:00 pm</div>
<div class="a" style="z-index:10;left:1269px;top:600.5px;width:35px;height:18.5px;border-radius:10px;background:#d3d5d9"></div>
<div class="a" style="z-index:10;left:1272.3px;top:602.6px;width:14.4px;height:14.4px;border-radius:50%;background:#fff"></div>
<div class="t" style="z-index:10;left:1314px;top:603.8px;font-size:12.1px;letter-spacing:0.3px;font-weight:normal;-webkit-text-stroke:0.45px currentColor;color:#4b525c">Open shift</div>
<div class="a" style="z-index:10;left:1269px;top:639.5px;width:35px;height:18.5px;border-radius:10px;background:#d3d5d9"></div>
<div class="a" style="z-index:10;left:1272.3px;top:641.6px;width:14.4px;height:14.4px;border-radius:50%;background:#fff"></div>
<div class="t" style="z-index:10;left:1314px;top:642.8px;font-size:12.1px;letter-spacing:0.3px;font-weight:normal;-webkit-text-stroke:0.45px currentColor;color:#4b525c">Repeat</div>
<div class="a" style="z-index:10;left:1079.5px;top:675px;width:15.5px;height:15.5px;border-radius:3.5px;background:#3b82f6"></div>
<svg class="ico" style="z-index:10;left:1079.5px;top:675px" width="15.5" height="15.5" viewBox="0 0 16 16" fill="none" stroke="#fff" stroke-width="1.5" stroke-linecap="round" stroke-linejoin="round"><path d="M3.5 8.2l3 3 6-6.2"/></svg>
<div class="t" style="z-index:10;left:1101.4px;top:676px;font-size:13px;color:#4b525c">Mon</div>
<div class="a" style="z-index:10;left:1141.4px;top:675px;width:15.5px;height:15.5px;border-radius:3.5px;background:#fff;border:1px solid #ced3da"></div>
<div class="t" style="z-index:10;left:1164px;top:676px;font-size:13px;color:#4b525c">Tue</div>
<div class="a" style="z-index:10;left:1199.1px;top:675px;width:15.5px;height:15.5px;border-radius:3.5px;background:#3b82f6"></div>
<svg class="ico" style="z-index:10;left:1199.1px;top:675px" width="15.5" height="15.5" viewBox="0 0 16 16" fill="none" stroke="#fff" stroke-width="1.5" stroke-linecap="round" stroke-linejoin="round"><path d="M3.5 8.2l3 3 6-6.2"/></svg>
<div class="t" style="z-index:10;left:1221.4px;top:676px;font-size:13px;color:#4b525c">Wed</div>
<div class="a" style="z-index:10;left:1261.6px;top:675px;width:15.5px;height:15.5px;border-radius:3.5px;background:#fff;border:1px solid #ced3da"></div>
<div class="t" style="z-index:10;left:1283.3px;top:676px;font-size:13px;color:#4b525c">Thu</div>
<div class="a" style="z-index:10;left:1320.2px;top:675px;width:15.5px;height:15.5px;border-radius:3.5px;background:#3b82f6"></div>
<svg class="ico" style="z-index:10;left:1320.2px;top:675px" width="15.5" height="15.5" viewBox="0 0 16 16" fill="none" stroke="#fff" stroke-width="1.5" stroke-linecap="round" stroke-linejoin="round"><path d="M3.5 8.2l3 3 6-6.2"/></svg>
<div class="t" style="z-index:10;left:1341.9px;top:676px;font-size:13px;color:#4b525c">Fri</div>
<div class="a" style="z-index:10;left:1079.5px;top:705.5px;width:170px;height:24.5px;background:#fff;border:1px solid #ced3da;border-radius:6px"></div>
<div class="t" style="z-index:10;left:1094px;top:711.5px;font-size:13.4px;color:#4b525c">Manager</div>
<svg class="ico" style="z-index:10;left:1226px;top:714px" width="12" height="8" viewBox="0 0 12 8" fill="none" stroke="#4b525c" stroke-width="1.4" stroke-linecap="round" stroke-linejoin="round"><path d="M1.5 1.5L6 6l4.5-4.5"/></svg>
<div class="a" style="z-index:10;left:1266px;top:705.5px;width:49.5px;height:24.5px;background:#fff;border:1px solid #ced3da;border-radius:6px"></div>
<div class="a" style="z-index:10;left:1272px;top:709px;width:18px;height:17.5px;border-radius:3px;background:#f97316"></div>
<svg class="ico" style="z-index:10;left:1298px;top:714px" width="11" height="8" viewBox="0 0 11 8" fill="none" stroke="#4b525c" stroke-width="1.4" stroke-linecap="round" stroke-linejoin="round"><path d="M1.5 1.5L5.5 5.5l4-4"/></svg>
<div class="a" style="z-index:10;left:1079.3px;top:745.5px;width:313.6px;height:50px;background:#fff;border:1px solid #ced3da;border-radius:6px;overflow:hidden"><div class="t" style="left:10px;top:13px;font-size:14.9px;color:#5f6670">Coordinate staff schedules and assign tasks</div></div>
<div class="a" style="z-index:10;left:1066px;top:808px;width:340px;height:1px;background:#c8dbf6"></div>
<div class="a" style="z-index:10;left:1079.3px;top:823.4px;width:98.6px;height:39px;background:#fff;border:2px solid #5ccfbd;border-radius:4px"></div>
<div class="t" style="z-index:10;left:1086.8px;top:828px;font-size:12px;letter-spacing:0.5px;font-weight:normal;-webkit-text-stroke:0.45px currentColor;color:#1a9e8a">Day shift</div>
<div class="t" style="z-index:10;left:1086.8px;top:846.5px;font-size:10.7px;color:#1a9e8a">12:00 p - 6:00 p</div>
<div class="a" style="z-index:10;left:1186.7px;top:823.4px;width:98.6px;height:39px;background:#fff;border:2px solid #7aa7f5;border-radius:4px"></div>
<div class="t" style="z-index:10;left:1194.2px;top:828px;font-size:12px;letter-spacing:0.5px;font-weight:normal;-webkit-text-stroke:0.45px currentColor;color:#3a74dc">Evening shift</div>
<div class="t" style="z-index:10;left:1194.2px;top:846.5px;font-size:10.7px;color:#3a74dc">6:00 p - 11:00 p</div>
<div class="a" style="z-index:10;left:1294px;top:823.4px;width:98.6px;height:39px;background:#fff;border:2px solid #a8a8a8;border-radius:4px"></div>
<div class="t" style="z-index:10;left:1301.5px;top:828px;font-size:12px;letter-spacing:0.5px;font-weight:normal;-webkit-text-stroke:0.45px currentColor;color:#8a8a8a">Night shift</div>
<div class="t" style="z-index:10;left:1301.5px;top:846.5px;font-size:10.7px;color:#8a8a8a">11:00 p - 6:00 a</div>
<svg class="ico" style="left:0;top:0;z-index:25" width="1449" height="920" viewBox="0 0 1449 920" fill="none" stroke="#8a8a8a" stroke-width="2.6" stroke-linecap="round" stroke-linejoin="round"><path d="M1021.7 102.5C1013 88 1012 70 1019.5 52"/><path d="M1006.5 63.5L1019.5 51.8 1027 70.4"/><path d="M581.4 290.5C570 300 563 315 561.4 333.5"/><path d="M554.5 317.1L561.4 333.7 576.6 319.2"/><path d="M1127.5 303C1112 305 1098 315 1091.3 333"/><path d="M1090.8 318.8L1091.3 333.3 1108.2 326.8"/><path d="M1065.2 597.8C1050 600 1036 612 1029.1 628.3"/><path d="M1029.6 612.2L1029.1 628.3 1046.1 621.3"/></svg>
<div class="tip" style="left:937.3999999999999px;top:103.69999999999999px;width:182.4px;height:36.8px;transform:rotate(-3.4deg)"><div class="t" style="left:13px;top:7.66px;font-size:17.3px;letter-spacing:-0.41px;font-weight:bold;color:#fff">Copy past week</div><svg class="ico" style="right:11.5px;top:7px" width="16" height="19" viewBox="0 0 18 20" fill="none" stroke="#fff" stroke-width="1.4" stroke-linejoin="round" stroke-linecap="round"><path d="M7.4 1.2H12l3.8 3.8v8.6c0 .8-.6 1.4-1.4 1.4H7.4c-.8 0-1.4-.6-1.4-1.4V2.6c0-.8.6-1.4 1.4-1.4z"/><path d="M12 1.4V5h3.6"/><path d="M5.9 5H3.4C2.6 5 2 5.6 2 6.4v10.7c0 .8.6 1.4 1.4 1.4h8.1c.8 0 1.4-.6 1.4-1.4V15"/></svg></div>
<div class="tip" style="left:581.45px;top:262.20000000000005px;width:140.3px;height:36.8px;transform:rotate(1.1deg)"><div class="t" style="left:13px;top:9.16px;font-size:17.3px;letter-spacing:-0.38px;font-weight:bold;color:#fff">Availability</div><svg class="ico" style="right:10.5px;top:8px" width="15" height="17" viewBox="0 0 15 17" fill="none" stroke="#fff" stroke-width="1.3" stroke-linecap="round"><rect x="1" y="3" width="13" height="13" rx="2"/><path d="M1 7h13M4.5 1v3.5M10.5 1v3.5"/><path d="M6 10.5l3 3M9 10.5l-3 3" stroke-width="1.1"/></svg></div>
<div class="tip" style="left:1127.0px;top:287.5px;width:124.4px;height:36.8px;transform:rotate(-1.6deg)"><div class="t" style="left:13.2px;top:8.16px;font-size:17.3px;letter-spacing:-0.3px;font-weight:bold;color:#fff">Time Off</div><svg class="ico" style="right:9.5px;top:6.5px" width="19.5" height="19.5" viewBox="0 0 18 18" fill="none" stroke="#fff" stroke-width="1.2" stroke-linejoin="round"><path d="M15.8 2.2c-.8-.8-2-.6-2.8.2l-2.6 2.6-6.6-2-1.4 1.4 5.4 3.4-2.6 2.6-2.2-.4-1 1 2.8 1.4 1.4 2.8 1-1-.4-2.2 2.6-2.6 3.4 5.4 1.4-1.4-2-6.6 2.6-2.6c.8-.8 1-2 .2-2.8z"/></svg></div>
<div class="tip" style="left:1267.0px;top:767.6px;width:171.2px;height:36.8px;transform:rotate(-1.9deg)"><div class="t" style="left:12px;top:8.36px;font-size:17.3px;letter-spacing:-0.22px;font-weight:bold;color:#fff">Use templates</div><svg class="ico" style="right:12px;top:7px" width="15" height="18" viewBox="0.5 0.5 13 16" fill="none" stroke="#fff" stroke-width="1.5" stroke-linejoin="round"><path d="M2 1.5h10v14l-5-4-5 4z"/></svg></div>
<svg class="ico" style="left:27px;top:13px" width="32" height="35" viewBox="27 13 32 35"><path d="M38.3 16.8v3.6M47.6 16.8v3.6" stroke="#e9ebf0" stroke-width="3.6" stroke-linecap="round"/><rect x="31.6" y="20.4" width="22.8" height="23.4" rx="3.6" fill="none" stroke="#e4e6eb" stroke-width="4.2"/><rect x="31.6" y="20.4" width="22.8" height="23.4" rx="3.6" fill="#fff" stroke="#484848" stroke-width="1.8"/><path d="M32.5 27.2V23.9c0-1.5 1-2.6 2.5-2.6h16c1.5 0 2.5 1.1 2.5 2.6v3.3z" fill="#3b82f6"/><path d="M32 27.9h22" stroke="#484848" stroke-width="1.5"/><path d="M38.3 16.8v3.6M47.6 16.8v3.6" stroke="#3d3d3d" stroke-width="1.8" stroke-linecap="round"/><path d="M37.8 35l3.7 3.5 7-6.5" fill="none" stroke="#3a3a3a" stroke-width="2" stroke-linecap="round" stroke-linejoin="round"/></svg>
<div class="a" style="left:21px;top:72px;width:44px;height:40px;border-radius:6px;background:#2c4377"></div>
<svg class="ico" style="left:31px;top:81px" width="24" height="22" viewBox="0 0 24 22" fill="none" stroke="#fff" stroke-width="1.5"><rect x="2.3" y="2.5" width="13.5" height="3.8" rx="1.9"/><rect x="8.3" y="9.4" width="13.5" height="3.8" rx="1.9"/><rect x="2.3" y="16" width="13.5" height="3.8" rx="1.9"/></svg>
<svg class="ico" style="left:32px;top:129.5px" width="22" height="22" viewBox="0 0 22 22" fill="none" stroke="#a9b3ca" stroke-width="1.6" stroke-linecap="round" stroke-linejoin="round"><path d="M2 12l3-8.5c.3-.7.9-1 1.6-1h8.8c.7 0 1.3.3 1.6 1L20 12v5.5c0 1-.8 1.8-1.8 1.8H3.8c-1 0-1.8-.8-1.8-1.8z"/><path d="M2 12h5l1.2 2.2h5.6L15 12h5"/></svg>
<svg class="ico" style="left:32.5px;top:177px" width="22" height="22" viewBox="0 0 22 22" fill="none" stroke="#a9b3ca" stroke-width="1.6" stroke-linecap="round" stroke-linejoin="round"><path d="M3 19.5l1.2-4.2A8.2 8.2 0 1 1 7.6 18.6z"/></svg>
<svg class="ico" style="left:32px;top:225px" width="22" height="22" viewBox="0 0 22 22" fill="none" stroke="#a9b3ca" stroke-width="1.6" stroke-linecap="round" stroke-linejoin="round"><circle cx="11" cy="11" r="9"/><path d="M11 5.8V11.5h4.2"/></svg>
<svg class="ico" style="left:32px;top:273px" width="22" height="22" viewBox="0 0 22 22" fill="none" stroke="#a9b3ca" stroke-width="1.6" stroke-linecap="round" stroke-linejoin="round" stroke-width="1.4"><path d="M19.3 2.7c-1-1-2.4-.8-3.4.2l-3.2 3.2-8-2.4-1.7 1.7 6.6 4.1-3.1 3.1-2.7-.4-1.2 1.2 3.4 1.7 1.7 3.4 1.2-1.2-.4-2.7 3.1-3.1 4.1 6.6 1.7-1.7-2.4-8 3.2-3.2c1-1 1.2-2.4.2-3.4z"/></svg>
<svg class="ico" style="left:32px;top:321px" width="22" height="22" viewBox="0 0 22 22" fill="none" stroke="#a9b3ca" stroke-width="1.6" stroke-linecap="round" stroke-linejoin="round"><path d="M19.5 12.5A8.7 8.7 0 1 1 9.5 2.5"/><path d="M12.5 1.8v7.7h7.7A7.7 7.7 0 0 0 12.5 1.8z"/></svg>
<div class="a" style="left:21px;top:364px;width:44px;height:1px;background:#3b4d7a"></div>
<svg class="ico" style="left:32px;top:385px" width="22" height="22" viewBox="0 0 24 24" fill="none" stroke="#a9b3ca" stroke-width="1.6" stroke-linecap="round" stroke-linejoin="round" stroke-width="1.5"><circle cx="12" cy="12" r="3"/><path d="M19.4 15a1.65 1.65 0 0 0 .33 1.82l.06.06a2 2 0 1 1-2.83 2.83l-.06-.06a1.65 1.65 0 0 0-1.82-.33 1.65 1.65 0 0 0-1 1.51V21a2 2 0 1 1-4 0v-.09A1.65 1.65 0 0 0 9 19.4a1.65 1.65 0 0 0-1.82.33l-.06.06a2 2 0 1 1-2.83-2.83l.06-.06a1.65 1.65 0 0 0 .33-1.82 1.65 1.65 0 0 0-1.51-1H3a2 2 0 1 1 0-4h.09A1.65 1.65 0 0 0 4.6 9a1.65 1.65 0 0 0-.33-1.82l-.06-.06a2 2 0 1 1 2.83-2.83l.06.06a1.65 1.65 0 0 0 1.82.33H9a1.65 1.65 0 0 0 1-1.51V3a2 2 0 1 1 4 0v.09a1.65 1.65 0 0 0 1 1.51 1.65 1.65 0 0 0 1.82-.33l.06-.06a2 2 0 1 1 2.83 2.83l-.06.06a1.65 1.65 0 0 0-.33 1.82V9a1.65 1.65 0 0 0 1.51 1H21a2 2 0 1 1 0 4h-.09a1.65 1.65 0 0 0-1.51 1z"/></svg>
<div class="a" style="left:21px;top:428px;width:44px;height:1px;background:#3b4d7a"></div>
<div class="a" style="left:25px;top:449px;width:35.5px;height:21.5px;border-radius:4px;background:#22c55e"></div>
<div class="t" style="left:25px;width:35.5px;text-align:center;top:454px;font-size:13px;color:#fff">In</div>
<div class="a" style="left:9px;top:844px;width:68px;height:1px;background:#34467a"></div>
<svg class="ico" style="left:22.5px;top:856.5px" width="41" height="41" viewBox="0 0 41 41"><defs><clipPath id="ua"><circle cx="20.5" cy="20.5" r="19"/></clipPath></defs><circle cx="20.5" cy="20.5" r="20.3" fill="#f4f4f2"/><g clip-path="url(#ua)"><rect width="41" height="41" fill="#c9cbb8"/><rect x="0" y="0" width="41" height="14" fill="#e6e8e0"/><rect x="20" y="10" width="21" height="8" fill="#a3b08a"/><rect x="2" y="8" width="7" height="30" fill="#8c8270"/><path d="M9 44c0-10 6-16 14-16s14 5 14 16z" fill="#24352f"/><ellipse cx="19.5" cy="19.5" rx="5.2" ry="6.2" fill="#9a6a4a"/><path d="M10.5 13.5h19l-1.5 2.2H12z" fill="#b89070"/><path d="M14.5 13.8c0-4 2.5-5.8 5.2-5.8s5.2 1.8 5.2 5.8z" fill="#b89070"/><ellipse cx="18" cy="29" rx="5.5" ry="3.8" fill="#a8704c"/><rect x="4" y="26" width="8" height="8" fill="#d9d2b8"/></g></svg>
<svg class="ico" style="left:0;top:0;z-index:40" width="1449" height="920" viewBox="0 0 1449 920"><polygon points="-5,737.675 260,982.8 260,1045.3 -5,800.175" fill="#f53b2e"/><polygon points="0,738.2 7.7,733.2 9.8,733.2 9.8,751.4 0,742.3" fill="#c22f28"/><polygon points="179.5,909.3 200,909.3 191,920" fill="#b82b25"/><text x="76.4" y="855.6" transform="rotate(42.77 76.4 846.9)" text-anchor="middle" font-family="Liberation Sans" font-size="24.8" fill="#fff">ADMIN</text></svg>
</body></html>
